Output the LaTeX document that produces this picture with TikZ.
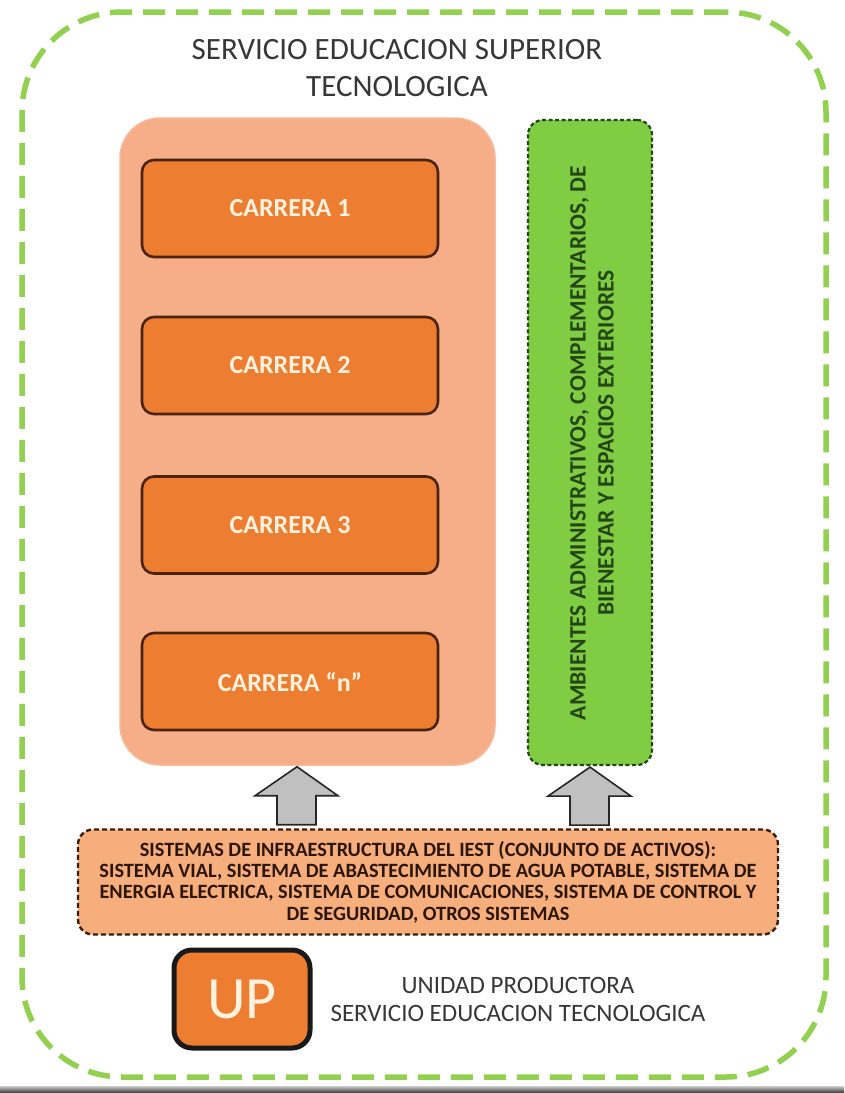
\documentclass[tikz,border=0pt]{standalone}
\usepackage{fontspec}
\setmainfont{Carlito}
\usetikzlibrary{calc}
\definecolor{lgreen}{RGB}{146,208,80}
\definecolor{boxgreen}{RGB}{128,204,66}
\definecolor{dkgreen}{RGB}{35,70,20}
\definecolor{salmon}{RGB}{245,174,136}
\definecolor{infrafill}{RGB}{245,174,124}
\definecolor{orangeA}{RGB}{237,125,49}
\definecolor{brownB}{RGB}{75,35,10}
\definecolor{cream}{RGB}{255,242,222}
\definecolor{txtgray}{RGB}{55,55,55}
\definecolor{arrowgray}{RGB}{192,192,192}
\tikzset{
  frame/.style={draw=lgreen, line width=5.5pt, dash pattern=on 22pt off 11pt,
    rounded corners=100pt, minimum width=804pt, minimum height=1065pt},
  container/.style={fill=salmon, draw=salmon!85!white, line width=1.5pt,
    rounded corners=40pt, minimum width=375pt, minimum height=647pt},
  carrera/.style={fill=orangeA, draw=brownB, line width=2.6pt, rounded corners=12pt,
    minimum width=296pt, minimum height=97pt, text=cream,
    font=\fontsize{26}{30}\selectfont\bfseries},
  greenbox/.style={fill=boxgreen, draw=dkgreen, line width=2.2pt,
    dash pattern=on 4pt off 2.5pt, rounded corners=15pt,
    minimum width=124pt, minimum height=645pt},
  infrabox/.style={fill=infrafill, draw=brownB!80!black, line width=2.4pt,
    dash pattern=on 5pt off 3pt, rounded corners=15pt,
    minimum width=700pt, minimum height=105pt, align=center, text=brownB!60!black,
    font=\fontsize{20.3}{21.3}\selectfont\bfseries},
  upbox/.style={fill=orangeA, draw=black!90, line width=5pt, rounded corners=18pt,
    minimum width=136pt, minimum height=98pt, text=cream,
    font=\fontsize{60}{64}\selectfont},
  label/.style={text=txtgray, align=center},
  blockarrow/.style={fill=arrowgray, draw=black!85, line width=1.6pt, line join=miter}
}
\newcommand{\uparrowat}[1]{%
  \draw[blockarrow] (#1) -- ++(41,29) -- ++(-22,0) -- ++(0,29) -- ++(-39,0)
    -- ++(0,-29) -- ++(-22,0) -- cycle;}
\begin{document}
\begin{tikzpicture}[x=1pt,y=-1pt]
\useasboundingbox (0,0) rectangle (844,1093);
\fill[white] (0,0) rectangle (844,1093);

% outer service boundary
\node[frame] (frame) at (424,544.5) {};

% title
\node[label, font=\fontsize{31}{37}\selectfont] (title) at (397,68)
  {SERVICIO EDUCACION SUPERIOR\\TECNOLOGICA};

% academic block with careers
\node[container] (acad) at (307.5,441.5) {};
\node[carrera] (c1) at (290,208.5) {CARRERA 1};
\node[carrera] (c2) at (290,365.5) {CARRERA 2};
\node[carrera] (c3) at (290,525) {CARRERA 3};
\node[carrera] (cn) at (290,681.5) {CARRERA “n”};

% complementary spaces
\node[greenbox] (amb) at (590,442.5) {};
\node[rotate=90, align=center, text=dkgreen,
  font=\fontsize{23.5}{28}\selectfont\bfseries] (ambtxt) at (592,443)
  {AMBIENTES ADMINISTRATIVOS, COMPLEMENTARIOS, DE\\BIENESTAR Y ESPACIOS EXTERIORES};

% infrastructure systems
\node[infrabox] (infra) at (428,882)
  {SISTEMAS DE INFRAESTRUCTURA DEL IEST (CONJUNTO DE ACTIVOS):\\
   SISTEMA VIAL, SISTEMA DE ABASTECIMIENTO DE AGUA POTABLE, SISTEMA DE\\
   ENERGIA ELECTRICA, SISTEMA DE COMUNICACIONES, SISTEMA DE CONTROL Y\\
   DE SEGURIDAD, OTROS SISTEMAS};

% supporting arrows
\coordinate (tipL) at (acad.south -| 297,0);
\coordinate (tipR) at (amb.south);
\uparrowat{$(tipL)+(0,1)$}
\uparrowat{$(tipR)+(0,1)$}

% productive unit legend
\node[upbox] (up) at (242,999) {UP};
\node[label, font=\fontsize{25}{28}\selectfont] (uplbl) at (518,999)
  {UNIDAD PRODUCTORA\\SERVICIO EDUCACION TECNOLOGICA};

% bottom edge band
\shade[top color=gray!40, bottom color=black!80] (0,1086) rectangle (844,1093);
\end{tikzpicture}
\end{document}
